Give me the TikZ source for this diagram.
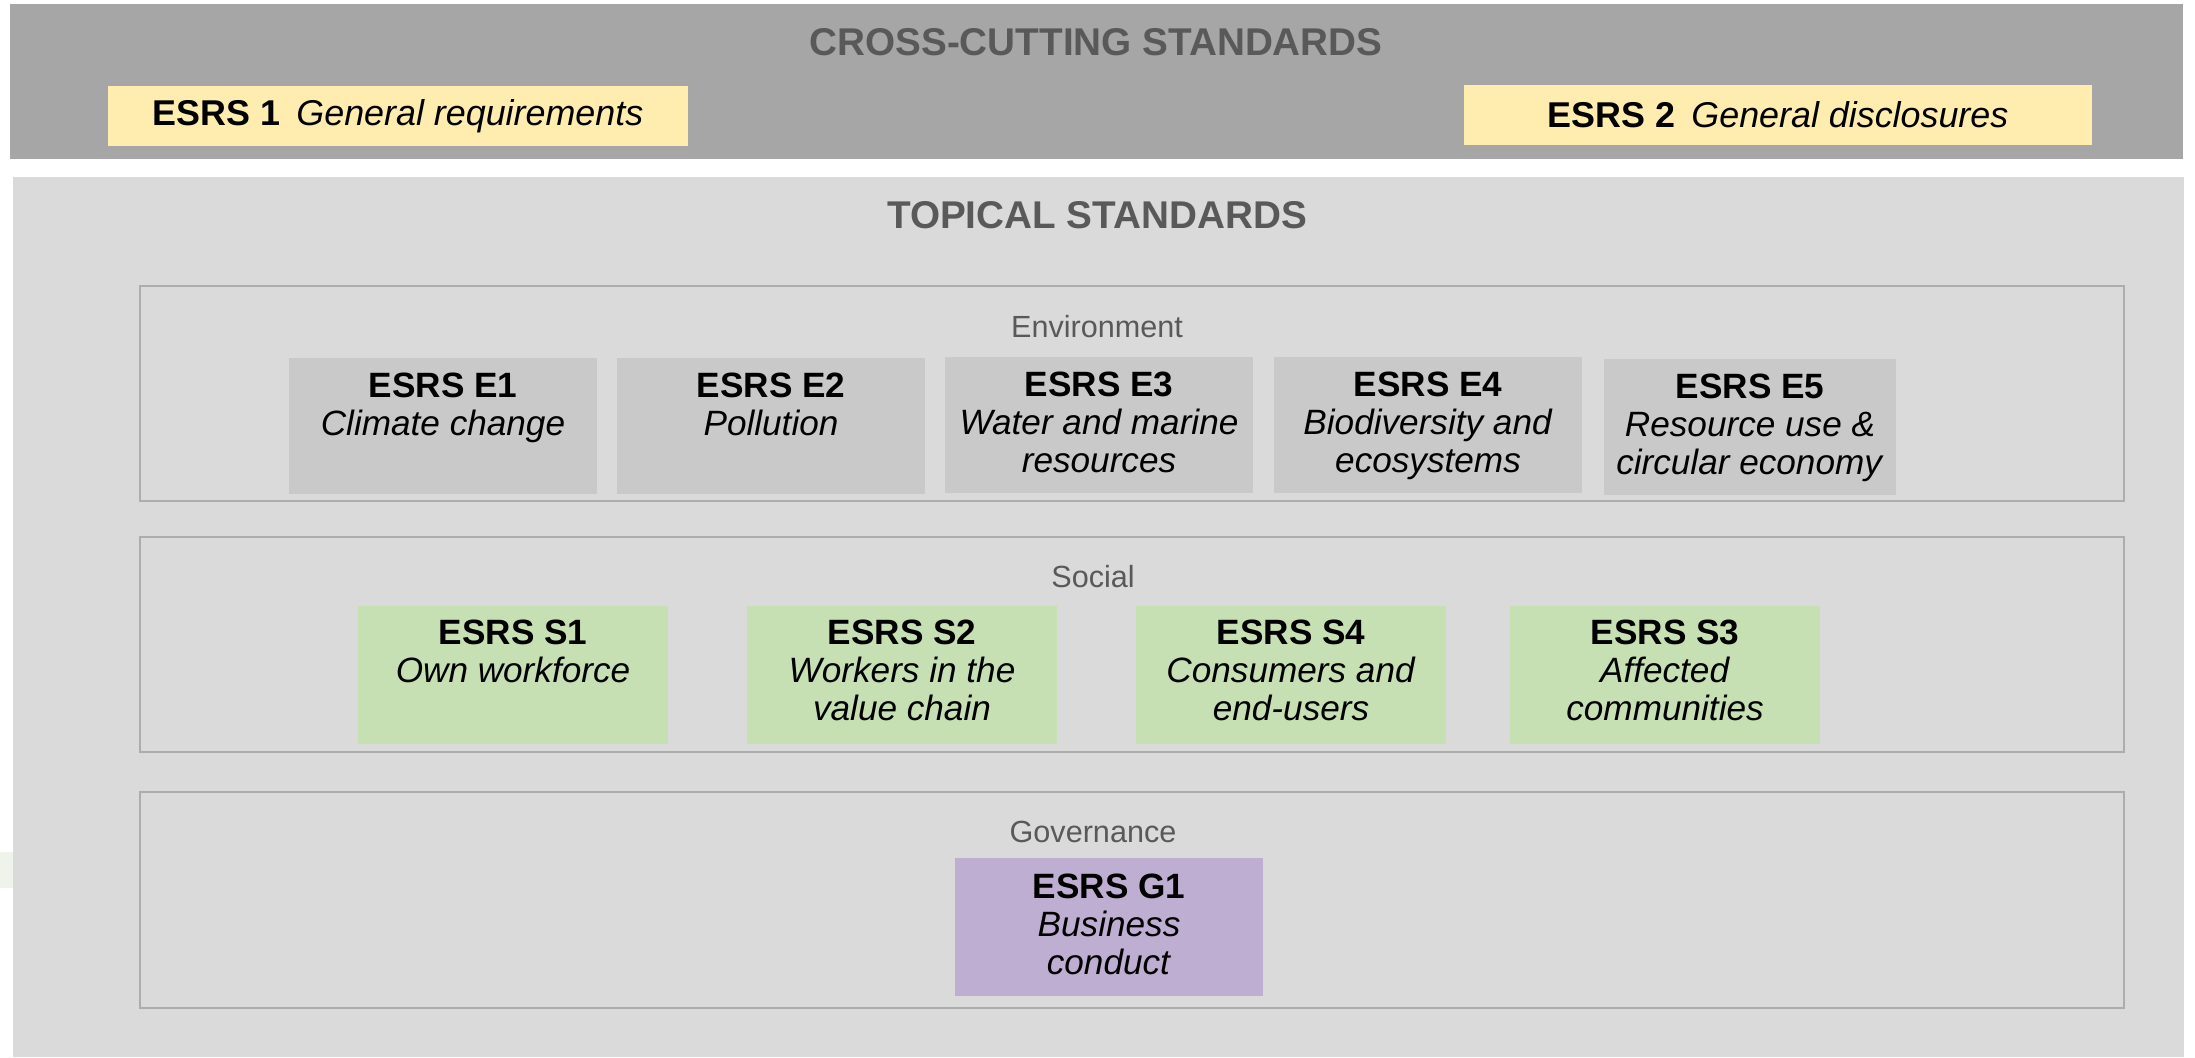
\documentclass[tikz,border=0pt]{standalone}
\usepackage{fontspec}
\setmainfont{Liberation Sans}
\usetikzlibrary{positioning}

\definecolor{crossgray}{HTML}{A6A6A6}
\definecolor{topicalgray}{HTML}{DADADA}
\definecolor{framegray}{HTML}{ADADAD}
\definecolor{envgray}{HTML}{C9C9C9}
\definecolor{titlegray}{HTML}{595959}
\definecolor{esrsyellow}{HTML}{FFEDAF}
\definecolor{socgreen}{HTML}{C6E0B4}
\definecolor{govpurple}{HTML}{BEAFD2}
\definecolor{faintgreen}{HTML}{EEF3EC}

\begin{document}
\begin{tikzpicture}[x=0.01cm,y=-0.01cm,
	frame/.style={draw=framegray,line width=0.6pt,fill=topicalgray},
	stdbox/.style={rectangle,inner sep=0pt,minimum height=1.35cm},
	genbox/.style={stdbox,fill=esrsyellow,minimum height=0.59cm,
		font=\fontsize{10.2}{12}\selectfont},
	ebox/.style={stdbox,fill=envgray,minimum width=3.07cm},
	sbox/.style={stdbox,fill=socgreen,minimum width=3.09cm,minimum height=1.38cm},
	gbox/.style={stdbox,fill=govpurple,minimum width=3.08cm,minimum height=1.37cm},
	stdtext/.style={align=center,inner sep=0pt,font=\fontsize{10}{10.8}\selectfont},
	title/.style={font=\fontsize{11}{13}\selectfont\bfseries,text=titlegray},
	group/.style={font=\fontsize{8.7}{10}\selectfont,text=titlegray}]

	\useasboundingbox (0,0) rectangle (2195,1057);

	% bands
	\fill[crossgray] (10,4) rectangle (2183,159);
	\fill[topicalgray] (13,177) rectangle (2184,1057);
	\fill[faintgreen] (0,852) rectangle (13,888);

	\node[title] (cross) at (1096,42) {CROSS-CUTTING STANDARDS};
	\node[title] (topical) at (1097,215) {TOPICAL STANDARDS};

	\node[genbox,minimum width=5.8cm] (esrs1) at (398,116)
		{\textbf{ESRS 1}\hspace{0.45em}\textit{General requirements}};
	\node[genbox,minimum width=6.28cm] (esrs2) at (1778,115)
		{\textbf{ESRS 2}\hspace{0.45em}\textit{General disclosures}};

	% groups
	\draw[frame] (140,286) rectangle (2124,501);
	\draw[frame] (140,537) rectangle (2124,752);
	\draw[frame] (140,792) rectangle (2124,1008);

	\node[group] (envlbl) at (1097,327) {Environment};
	\node[group] (soclbl) at (1093,577) {Social};
	\node[group] (govlbl) at (1093,832) {Governance};

	% environment
	\node[ebox] (e1) at (443,426) {};
	\node[ebox] (e2) at (771,426) {};
	\node[ebox] (e3) at (1099,425) {};
	\node[ebox] (e4) at (1428,425) {};
	\node[ebox,minimum width=2.92cm] (e5) at (1750,427) {};
	\node[stdtext,below=1.45mm of e1.north] (e1txt) {\textbf{ESRS E1}\\\textit{Climate change}};
	\node[stdtext,below=1.45mm of e2.north] (e2txt) {\textbf{ESRS E2}\\\textit{Pollution}};
	\node[stdtext,below=1.45mm of e3.north] (e3txt) {\textbf{ESRS E3}\\\textit{Water and marine}\\\textit{resources}};
	\node[stdtext,below=1.45mm of e4.north] (e4txt) {\textbf{ESRS E4}\\\textit{Biodiversity and}\\\textit{ecosystems}};
	\node[stdtext,below=1.45mm of e5.north] (e5txt) {\textbf{ESRS E5}\\\textit{Resource use \&}\\\textit{circular economy}};

	% social
	\node[sbox] (s1) at (513,675) {};
	\node[sbox] (s2) at (902,675) {};
	\node[sbox] (s4) at (1291,675) {};
	\node[sbox] (s3) at (1665,675) {};
	\node[stdtext,below=1.4mm of s1.north] (s1txt) {\textbf{ESRS S1}\\\textit{Own workforce}};
	\node[stdtext,below=1.4mm of s2.north] (s2txt) {\textbf{ESRS S2}\\\textit{Workers in the}\\\textit{value chain}};
	\node[stdtext,below=1.4mm of s4.north] (s4txt) {\textbf{ESRS S4}\\\textit{Consumers and}\\\textit{end-users}};
	\node[stdtext,below=1.4mm of s3.north] (s3txt) {\textbf{ESRS S3}\\\textit{Affected}\\\textit{communities}};

	% governance
	\node[gbox] (g1) at (1109,927) {};
	\node[stdtext,below=1.55mm of g1.north] (g1txt) {\textbf{ESRS G1}\\\textit{Business}\\\textit{conduct}};
\end{tikzpicture}
\end{document}
